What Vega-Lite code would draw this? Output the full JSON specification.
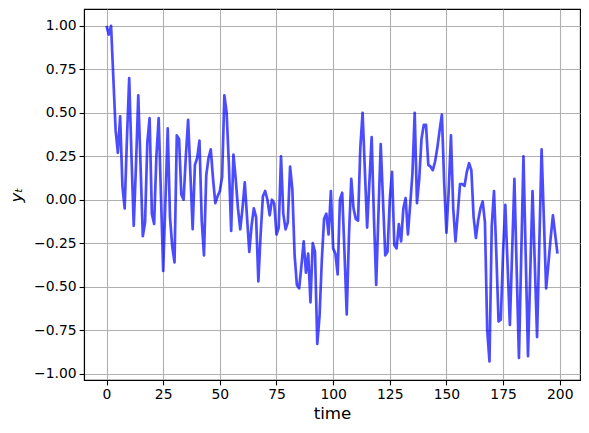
{
  "$schema": "https://vega.github.io/schema/vega-lite/v6.json",
  "width": 496,
  "height": 371,
  "autosize": {"type": "none"},
  "padding": {"left": 84, "top": 9, "right": 9, "bottom": 53},
  "background": "white",
  "config": {
    "view": {"stroke": "black", "strokeWidth": 1.1},
    "axis": {
      "labelFont": "DejaVu Sans",
      "titleFont": "DejaVu Sans",
      "labelFontSize": 13.9,
      "titleFontSize": 16.7,
      "titleFontWeight": "normal",
      "labelColor": "black",
      "titleColor": "black",
      "domainColor": "black",
      "domainWidth": 1.1,
      "tickColor": "black",
      "tickWidth": 1.1,
      "tickSize": 4.9,
      "labelPadding": 3,
      "gridColor": "#b0b0b0",
      "gridWidth": 1.1,
      "gridOpacity": 1
    }
  },
  "data": {
    "values": [
      {"t":0,"y":1.0},{"t":1,"y":0.95},{"t":2,"y":1.0},{"t":3,"y":0.7},{"t":4,"y":0.4},
      {"t":5,"y":0.27},{"t":6,"y":0.48},{"t":7,"y":0.08},{"t":8,"y":-0.05},{"t":9,"y":0.35},
      {"t":10,"y":0.7},{"t":11,"y":0.25},{"t":12,"y":-0.15},{"t":13,"y":0.2},{"t":14,"y":0.6},
      {"t":15,"y":0.2},{"t":16,"y":-0.21},{"t":17,"y":-0.13},{"t":18,"y":0.33},{"t":19,"y":0.47},
      {"t":20,"y":-0.08},{"t":21,"y":-0.14},{"t":22,"y":0.25},{"t":23,"y":0.47},{"t":24,"y":0.03},
      {"t":25,"y":-0.41},{"t":26,"y":0.0},{"t":27,"y":0.41},{"t":28,"y":-0.1},{"t":29,"y":-0.27},
      {"t":30,"y":-0.36},{"t":31,"y":0.37},{"t":32,"y":0.35},{"t":33,"y":0.03},{"t":34,"y":0.0},
      {"t":35,"y":0.25},{"t":36,"y":0.46},{"t":37,"y":0.15},{"t":38,"y":-0.17},{"t":39,"y":0.2},
      {"t":40,"y":0.24},{"t":41,"y":0.34},{"t":42,"y":-0.12},{"t":43,"y":-0.32},{"t":44,"y":0.14},
      {"t":45,"y":0.24},{"t":46,"y":0.29},{"t":47,"y":0.12},{"t":48,"y":-0.02},{"t":49,"y":0.02},
      {"t":50,"y":0.05},{"t":51,"y":0.13},{"t":52,"y":0.6},{"t":53,"y":0.5},{"t":54,"y":0.2},
      {"t":55,"y":-0.18},{"t":56,"y":0.26},{"t":57,"y":0.12},{"t":58,"y":-0.05},{"t":59,"y":-0.17},
      {"t":60,"y":-0.05},{"t":61,"y":0.1},{"t":62,"y":-0.1},{"t":63,"y":-0.3},{"t":64,"y":-0.15},
      {"t":65,"y":-0.05},{"t":66,"y":-0.1},{"t":67,"y":-0.47},{"t":68,"y":-0.2},{"t":69,"y":0.02},
      {"t":70,"y":0.05},{"t":71,"y":0.0},{"t":72,"y":-0.09},{"t":73,"y":0.0},{"t":74,"y":-0.02},
      {"t":75,"y":-0.2},{"t":76,"y":-0.16},{"t":77,"y":0.25},{"t":78,"y":-0.08},{"t":79,"y":-0.17},
      {"t":80,"y":-0.13},{"t":81,"y":0.19},{"t":82,"y":0.06},{"t":83,"y":-0.32},{"t":84,"y":-0.49},
      {"t":85,"y":-0.51},{"t":86,"y":-0.38},{"t":87,"y":-0.24},{"t":88,"y":-0.42},{"t":89,"y":-0.31},
      {"t":90,"y":-0.59},{"t":91,"y":-0.25},{"t":92,"y":-0.3},{"t":93,"y":-0.83},{"t":94,"y":-0.67},
      {"t":95,"y":-0.35},{"t":96,"y":-0.11},{"t":97,"y":-0.08},{"t":98,"y":-0.2},{"t":99,"y":0.05},
      {"t":100,"y":-0.28},{"t":101,"y":-0.31},{"t":102,"y":-0.43},{"t":103,"y":0.0},{"t":104,"y":0.04},
      {"t":105,"y":-0.3},{"t":106,"y":-0.66},{"t":107,"y":-0.2},{"t":108,"y":0.12},{"t":109,"y":-0.05},
      {"t":110,"y":-0.11},{"t":111,"y":-0.12},{"t":112,"y":0.3},{"t":113,"y":0.5},{"t":114,"y":0.17},
      {"t":115,"y":-0.16},{"t":116,"y":0.1},{"t":117,"y":0.36},{"t":118,"y":-0.1},{"t":119,"y":-0.49},
      {"t":120,"y":-0.08},{"t":121,"y":0.32},{"t":122,"y":0.0},{"t":123,"y":-0.32},{"t":124,"y":-0.3},
      {"t":125,"y":0.0},{"t":126,"y":0.16},{"t":127,"y":-0.26},{"t":128,"y":-0.28},{"t":129,"y":-0.14},
      {"t":130,"y":-0.24},{"t":131,"y":-0.05},{"t":132,"y":0.01},{"t":133,"y":-0.2},{"t":134,"y":-0.03},
      {"t":135,"y":0.15},{"t":136,"y":0.5},{"t":137,"y":-0.02},{"t":138,"y":0.12},{"t":139,"y":0.35},
      {"t":140,"y":0.43},{"t":141,"y":0.43},{"t":142,"y":0.2},{"t":143,"y":0.19},{"t":144,"y":0.17},
      {"t":145,"y":0.22},{"t":146,"y":0.3},{"t":147,"y":0.4},{"t":148,"y":0.49},{"t":149,"y":0.1},
      {"t":150,"y":-0.19},{"t":151,"y":0.05},{"t":152,"y":0.37},{"t":153,"y":-0.05},{"t":154,"y":-0.24},
      {"t":155,"y":-0.08},{"t":156,"y":0.09},{"t":157,"y":0.09},{"t":158,"y":0.08},{"t":159,"y":0.16},
      {"t":160,"y":0.21},{"t":161,"y":0.17},{"t":162,"y":-0.1},{"t":163,"y":-0.22},{"t":164,"y":-0.12},
      {"t":165,"y":-0.05},{"t":166,"y":-0.01},{"t":167,"y":-0.13},{"t":168,"y":-0.75},{"t":169,"y":-0.93},
      {"t":170,"y":-0.15},{"t":171,"y":0.05},{"t":172,"y":-0.3},{"t":173,"y":-0.7},{"t":174,"y":-0.69},
      {"t":175,"y":-0.3},{"t":176,"y":-0.03},{"t":177,"y":-0.38},{"t":178,"y":-0.72},{"t":179,"y":-0.3},
      {"t":180,"y":0.12},{"t":181,"y":-0.4},{"t":182,"y":-0.91},{"t":183,"y":-0.33},{"t":184,"y":0.25},
      {"t":185,"y":-0.33},{"t":186,"y":-0.9},{"t":187,"y":-0.42},{"t":188,"y":0.05},{"t":189,"y":-0.37},
      {"t":190,"y":-0.79},{"t":191,"y":-0.25},{"t":192,"y":0.29},{"t":193,"y":-0.11},{"t":194,"y":-0.51},
      {"t":195,"y":-0.37},{"t":196,"y":-0.22},{"t":197,"y":-0.09},{"t":198,"y":-0.2},{"t":199,"y":-0.31}
    ]
  },
  "mark": {"type": "line", "color": "#0000ff", "opacity": 0.7, "strokeWidth": 2.7, "strokeJoin": "round", "strokeCap": "butt"},
  "encoding": {
    "x": {
      "field": "t", "type": "quantitative",
      "scale": {"domain": [-9.95, 208.95], "nice": false, "zero": false},
      "axis": {"title": "time", "values": [0, 25, 50, 75, 100, 125, 150, 175, 200], "format": "d", "titlePadding": 4}
    },
    "y": {
      "field": "y", "type": "quantitative",
      "scale": {"domain": [-1.037, 1.097], "nice": false, "zero": false},
      "axis": {"title": "yₜ", "titleFontStyle": "italic", "values": [-1, -0.75, -0.5, -0.25, 0, 0.25, 0.5, 0.75, 1], "format": ".2f", "titlePadding": 8}
    }
  }
}
